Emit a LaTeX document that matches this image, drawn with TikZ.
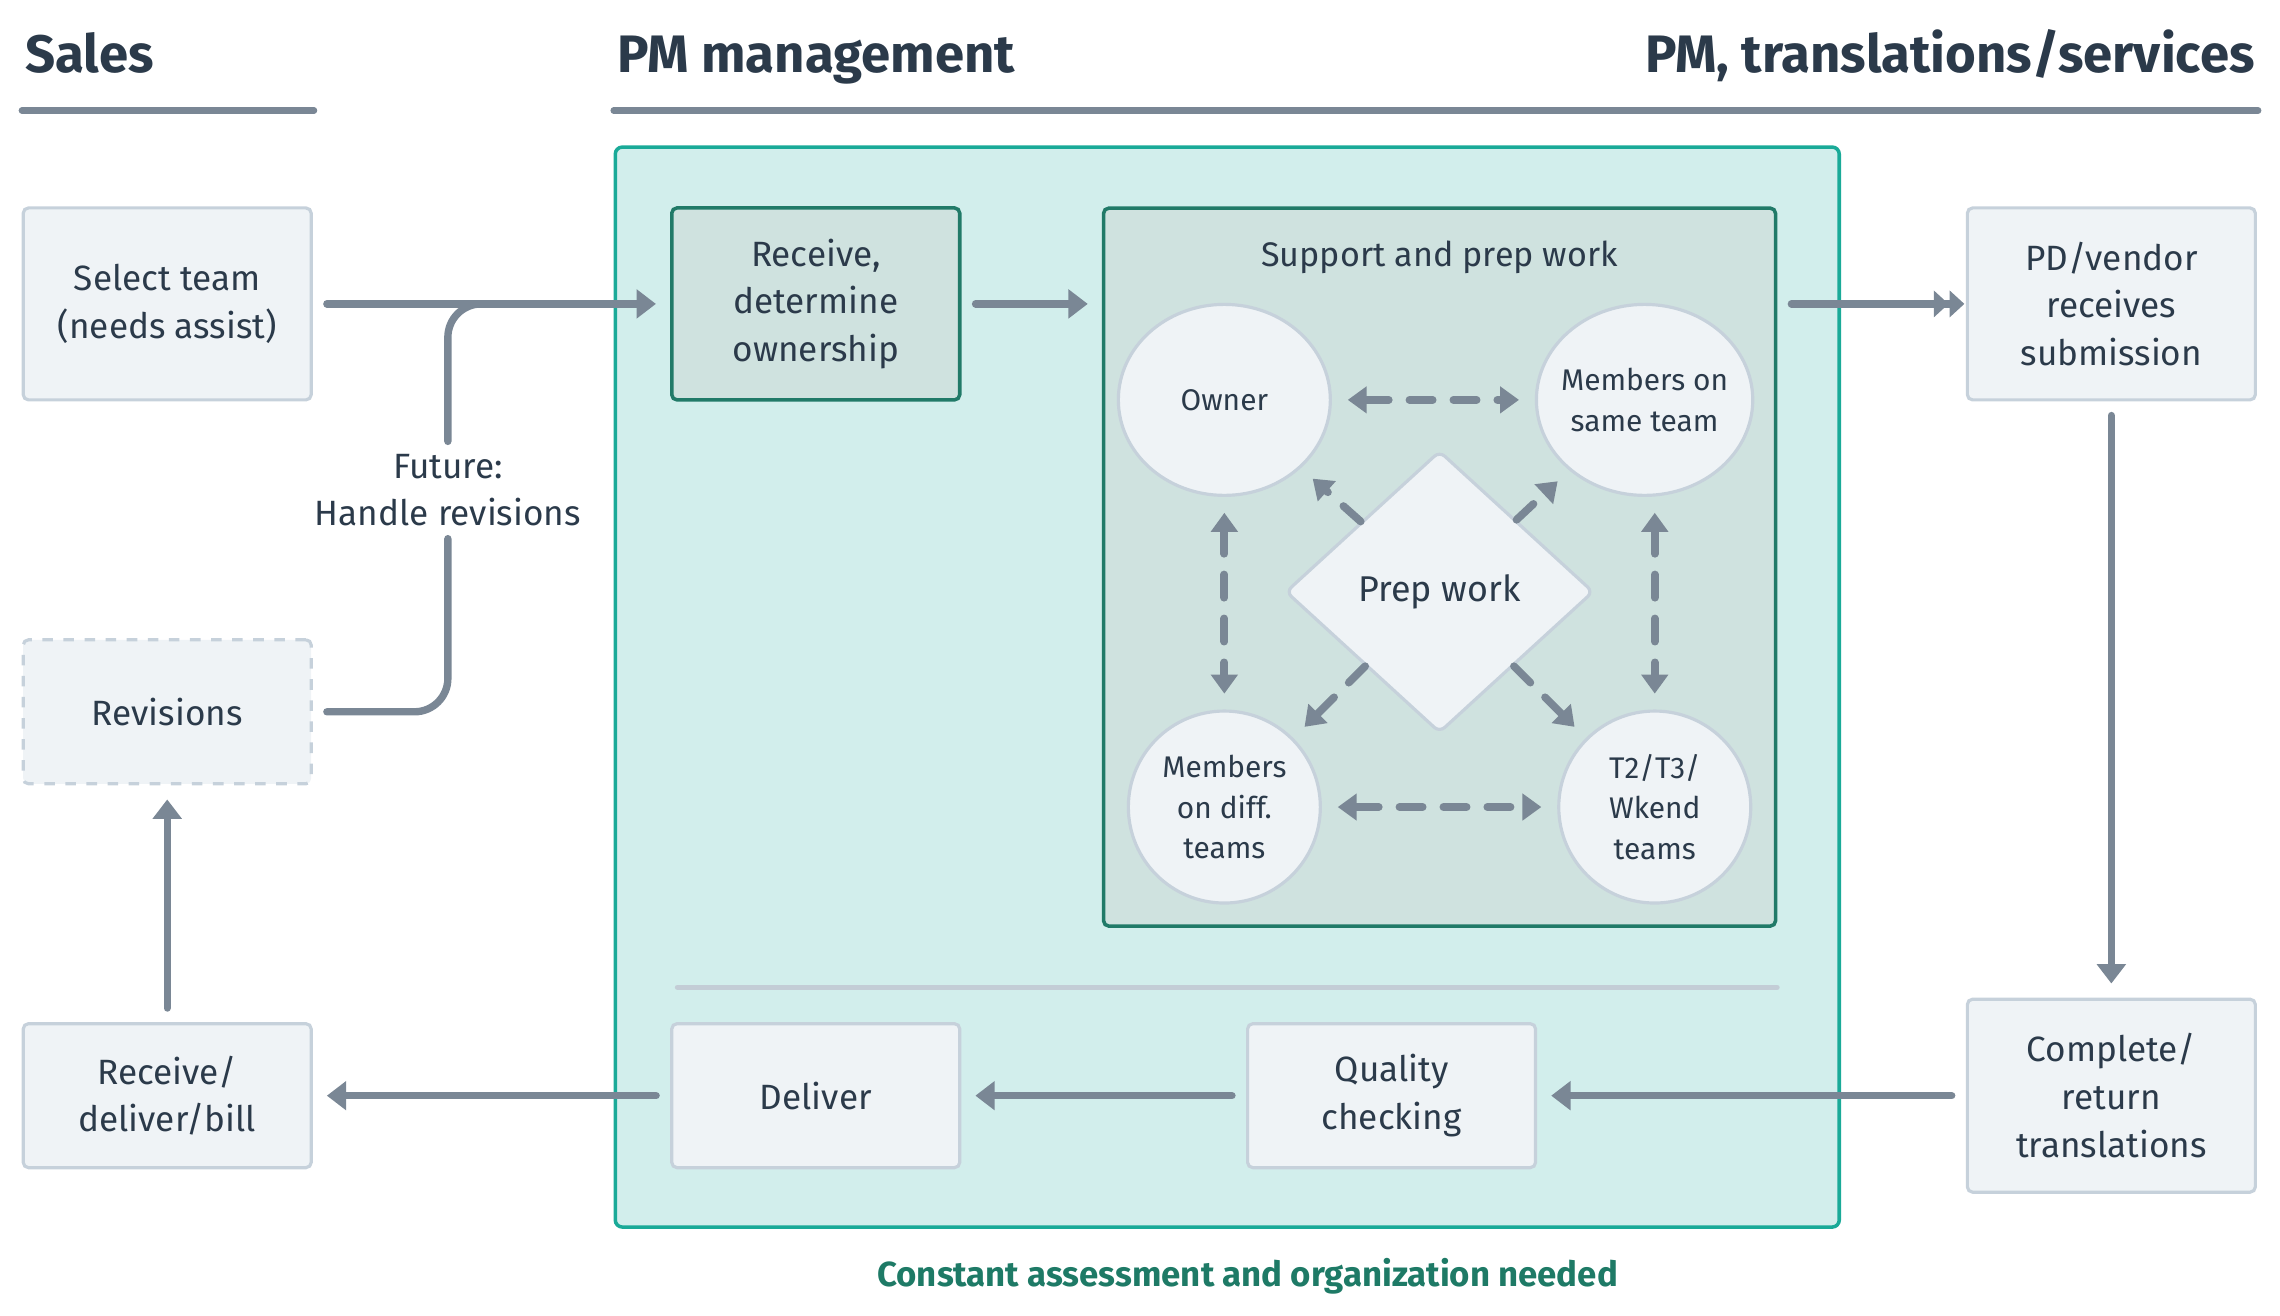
\documentclass[tikz,border=0pt]{standalone}
\usepackage{fontspec}
\setmainfont{Fira Sans}
\usetikzlibrary{arrows.meta,shapes.geometric,positioning}

\definecolor{ink}{HTML}{2B3A4A}
\definecolor{arrowgray}{HTML}{7A8795}
\definecolor{boxfill}{HTML}{EFF3F6}
\definecolor{boxline}{HTML}{C6D1DB}
\definecolor{tealfill}{HTML}{D2EEEC}
\definecolor{tealline}{HTML}{1AAA98}
\definecolor{prepfill}{HTML}{CFE2DF}
\definecolor{prepline}{HTML}{217A68}
\definecolor{footteal}{HTML}{1E7A66}
\definecolor{divider}{HTML}{C3CDD6}

\tikzset{
  every node/.style={text=ink, align=center, font=\fontsize{10}{13.6}\selectfont},
  heading/.style={inner sep=0pt, font=\fontsize{15}{18}\selectfont\bfseries},
  headrule/.style={draw=arrowgray, line width=1.8pt, line cap=round},
  stepbox/.style={draw=boxline, fill=boxfill, line width=0.9pt, rounded corners=1.5pt,
    minimum width=28.8mm, inner sep=0pt},
  draftbox/.style={stepbox, dashed},
  ownbox/.style={stepbox, draw=prepline, fill=prepfill, line width=1pt},
  member/.style={ellipse, draw=boxline, fill=boxfill, line width=0.9pt, inner sep=-2pt,
    font=\fontsize{8.5}{11.5}\selectfont},
  prep/.style={diamond, draw=boxline, fill=boxfill, line width=0.9pt, inner sep=0pt,
    minimum width=30.8mm, minimum height=28.2mm, rounded corners=2pt,
    font=\fontsize{10.2}{12}\selectfont},
  flowline/.style={draw=arrowgray, line width=2.1pt, line cap=round},
  flow/.style={flowline, -{Triangle[length=5.5pt,width=8pt]}, shorten <=4pt, shorten >=4pt},
  dflow/.style={draw=arrowgray, line width=2.2pt, line cap=round, dash pattern=on 6.6pt off 5.9pt,
    -{Triangle[length=5.4pt,width=7.4pt]}, shorten >=4.5pt},
  both/.style={{Triangle[length=5.4pt,width=7.4pt]}-{Triangle[length=5.4pt,width=7.4pt]}, shorten <=4.5pt}
}

\begin{document}
\begin{tikzpicture}[x=0.14541mm, y=-0.14541mm]
  \useasboundingbox (0,0) rectangle (1568,905);

  % column headings
  \node[heading, anchor=base west] (sales) at (17,50) {Sales};
  \node[heading, anchor=base west] (pmhead) at (424,50) {PM management};
  \node[heading, anchor=base east] (transhead) at (1551,50) {PM, translations/services};
  \draw[headrule] (15,76) -- (216,76);
  \draw[headrule] (422,76) -- (1553,76);

  % PM area
  \node[draw=tealline, fill=tealfill, line width=1pt, rounded corners=2pt,
    minimum width=122.4mm, minimum height=108mm] (pmarea) at (844,472.5) {};
  \node[ownbox, minimum width=67.2mm, minimum height=71.8mm] (support) at (990,390) {};
  \node[font=\fontsize{9.7}{12}\selectfont] (supporttitle) at (990,177) {Support and prep work};
  \draw[divider, line width=1.6pt, line cap=round] (466,679) -- (1222,679);

  % steps
  \node[stepbox, minimum height=19.2mm] (select) at (115,209) {Select team\\(needs assist)};
  \node[draftbox, minimum height=14.4mm] (revisions) at (115,489.5) {Revisions};
  \node[stepbox, minimum height=14.4mm] (billing) at (115,753.5) {Receive/\\deliver/bill};
  \node[ownbox, minimum height=19.2mm] (receive) at (561,209) {Receive,\\determine\\ownership};
  \node[stepbox, minimum height=19.2mm] (vendor) at (1452,209) {PD/vendor\\receives\\submission};
  \node[stepbox, minimum height=19.3mm] (complete) at (1452,753.5) {Complete/\\return\\translations};
  \node[stepbox, minimum height=14.4mm] (deliver) at (561,753.5) {Deliver};
  \node[stepbox, minimum height=14.4mm] (quality) at (957,753.5) {Quality\\checking};

  % team members
  \node[member, minimum width=21.2mm, minimum height=19.1mm] (owner) at (842,275) {Owner};
  \node[member, minimum width=21.2mm, minimum height=19.1mm] (sameteam) at (1131,275) {Members on\\same team};
  \node[member, minimum width=19.2mm, minimum height=19.2mm] (diffteam) at (842,555) {Members\\on diff.\\teams};
  \node[member, minimum width=19.2mm, minimum height=19.2mm] (weekend) at (1138,555) {T2/T3/\\Wkend\\teams};
  \node[prep] (prepwork) at (990,407) {Prep work};

  \node (future) at (308,337) {Future:\\Handle revisions};
  \coordinate (merge) at (370,209);

  % main flow
  \draw[flow] (select) -- (receive);
  \draw[flowline, rounded corners=9.5pt, shorten <=4pt] (revisions) -| (future);
  \draw[flowline, rounded corners=9.5pt] (future) |- (merge);
  \draw[flow] (receive) -- (receive -| support.west);
  \draw[flowline, -{Triangle[length=4.2pt,width=7.4pt,sep=0.3pt]Triangle[length=4.2pt,width=7.4pt]},
    shorten <=4pt, shorten >=0.4pt] (support.east |- vendor) -- (vendor);
  \draw[flow] (vendor) -- (complete);
  \draw[flow] (complete) -- (quality);
  \draw[flow] (quality) -- (deliver);
  \draw[flow] (deliver) -- (billing);
  \draw[flow] (billing) -- (revisions);

  % prep work links
  \draw[dflow, both] (owner) -- (sameteam);
  \draw[dflow, both] (diffteam) -- (weekend);
  \draw[dflow, both] (owner) -- (diffteam);
  \draw[dflow, both] (sameteam.south -| weekend.north) -- (weekend);
  \draw[dflow] (prepwork) -- (owner);
  \draw[dflow] (prepwork) -- (sameteam);
  \draw[dflow] (prepwork) -- (diffteam);
  \draw[dflow] (prepwork) -- (weekend);

  \node[text=footteal, font=\fontsize{9.9}{11}\selectfont\bfseries] (note) at (858,878)
    {Constant assessment and organization needed};
\end{tikzpicture}
\end{document}
